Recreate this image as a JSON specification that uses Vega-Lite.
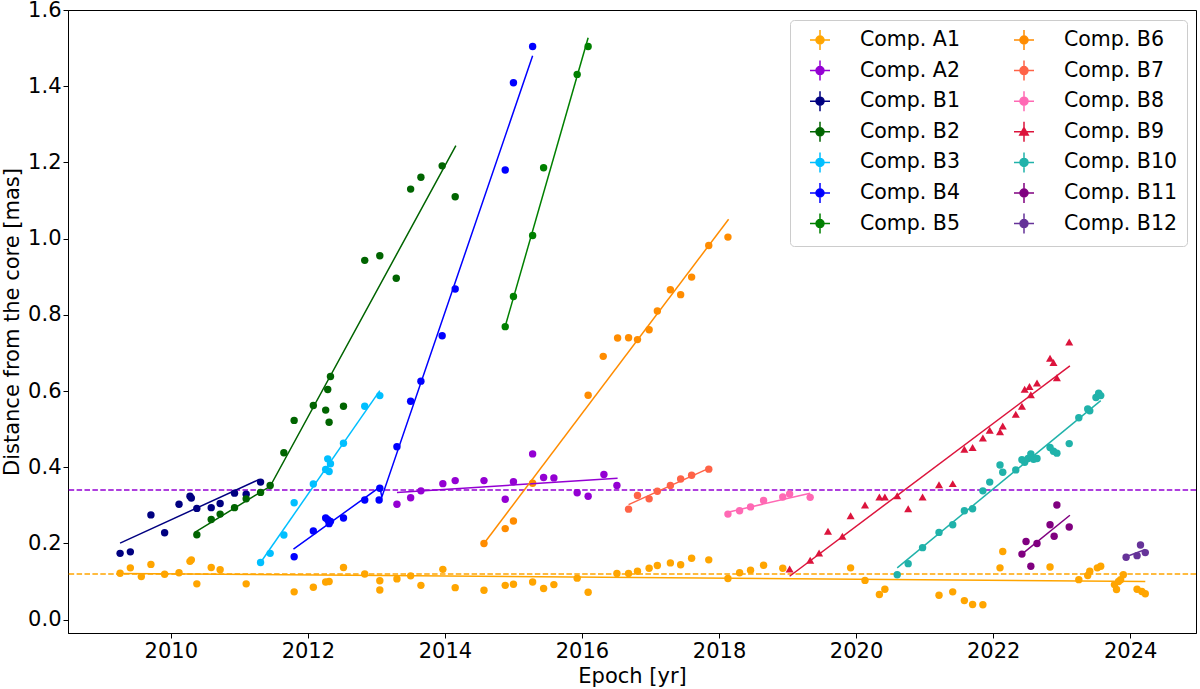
{
  "$schema": "https://vega.github.io/schema/vega-lite/v6.json",
  "width": 1128,
  "height": 623,
  "autosize": {"type": "none"},
  "padding": {"left": 68, "top": 10, "right": 4, "bottom": 56},
  "background": "white",
  "config": {
    "view": {"stroke": "black", "strokeWidth": 1},
    "font": "DejaVu Sans",
    "axis": {
      "grid": false,
      "domainColor": "black",
      "tickColor": "black",
      "labelColor": "black",
      "titleColor": "black",
      "labelFont": "DejaVu Sans",
      "titleFont": "DejaVu Sans",
      "labelFontSize": 21,
      "titleFontSize": 21,
      "titleFontWeight": "normal",
      "tickSize": 5,
      "labelPadding": 2
    }
  },
  "datasets": {
    "pts": [
      {"comp": "Comp. A1", "epoch": 2009.26, "dist": 0.122},
      {"comp": "Comp. A1", "epoch": 2009.41, "dist": 0.136},
      {"comp": "Comp. A1", "epoch": 2009.57, "dist": 0.113},
      {"comp": "Comp. A1", "epoch": 2009.71, "dist": 0.145},
      {"comp": "Comp. A1", "epoch": 2009.91, "dist": 0.119},
      {"comp": "Comp. A1", "epoch": 2010.12, "dist": 0.123},
      {"comp": "Comp. A1", "epoch": 2010.28, "dist": 0.153},
      {"comp": "Comp. A1", "epoch": 2010.30, "dist": 0.157},
      {"comp": "Comp. A1", "epoch": 2010.38, "dist": 0.094},
      {"comp": "Comp. A1", "epoch": 2010.59, "dist": 0.137},
      {"comp": "Comp. A1", "epoch": 2010.72, "dist": 0.131},
      {"comp": "Comp. A1", "epoch": 2011.10, "dist": 0.094},
      {"comp": "Comp. A1", "epoch": 2011.80, "dist": 0.073},
      {"comp": "Comp. A1", "epoch": 2012.08, "dist": 0.085},
      {"comp": "Comp. A1", "epoch": 2012.26, "dist": 0.099},
      {"comp": "Comp. A1", "epoch": 2012.31, "dist": 0.100},
      {"comp": "Comp. A1", "epoch": 2012.52, "dist": 0.137},
      {"comp": "Comp. A1", "epoch": 2012.83, "dist": 0.120},
      {"comp": "Comp. A1", "epoch": 2013.05, "dist": 0.102},
      {"comp": "Comp. A1", "epoch": 2013.05, "dist": 0.078},
      {"comp": "Comp. A1", "epoch": 2013.30, "dist": 0.107},
      {"comp": "Comp. A1", "epoch": 2013.50, "dist": 0.115},
      {"comp": "Comp. A1", "epoch": 2013.65, "dist": 0.090},
      {"comp": "Comp. A1", "epoch": 2013.97, "dist": 0.132},
      {"comp": "Comp. A1", "epoch": 2014.15, "dist": 0.084},
      {"comp": "Comp. A1", "epoch": 2014.57, "dist": 0.077},
      {"comp": "Comp. A1", "epoch": 2014.88, "dist": 0.090},
      {"comp": "Comp. A1", "epoch": 2015.00, "dist": 0.093},
      {"comp": "Comp. A1", "epoch": 2015.28, "dist": 0.099},
      {"comp": "Comp. A1", "epoch": 2015.44, "dist": 0.082},
      {"comp": "Comp. A1", "epoch": 2015.59, "dist": 0.092},
      {"comp": "Comp. A1", "epoch": 2015.93, "dist": 0.109},
      {"comp": "Comp. A1", "epoch": 2016.09, "dist": 0.072},
      {"comp": "Comp. A1", "epoch": 2016.51, "dist": 0.121},
      {"comp": "Comp. A1", "epoch": 2016.68, "dist": 0.121},
      {"comp": "Comp. A1", "epoch": 2016.81, "dist": 0.127},
      {"comp": "Comp. A1", "epoch": 2016.98, "dist": 0.135},
      {"comp": "Comp. A1", "epoch": 2017.10, "dist": 0.142},
      {"comp": "Comp. A1", "epoch": 2017.29, "dist": 0.149},
      {"comp": "Comp. A1", "epoch": 2017.44, "dist": 0.144},
      {"comp": "Comp. A1", "epoch": 2017.60, "dist": 0.161},
      {"comp": "Comp. A1", "epoch": 2017.85, "dist": 0.157},
      {"comp": "Comp. A1", "epoch": 2018.13, "dist": 0.108},
      {"comp": "Comp. A1", "epoch": 2018.30, "dist": 0.123},
      {"comp": "Comp. A1", "epoch": 2018.46, "dist": 0.130},
      {"comp": "Comp. A1", "epoch": 2018.65, "dist": 0.143},
      {"comp": "Comp. A1", "epoch": 2018.93, "dist": 0.135},
      {"comp": "Comp. A1", "epoch": 2019.92, "dist": 0.136},
      {"comp": "Comp. A1", "epoch": 2020.13, "dist": 0.103},
      {"comp": "Comp. A1", "epoch": 2020.34, "dist": 0.066},
      {"comp": "Comp. A1", "epoch": 2020.42, "dist": 0.080},
      {"comp": "Comp. A1", "epoch": 2021.21, "dist": 0.064},
      {"comp": "Comp. A1", "epoch": 2021.41, "dist": 0.073},
      {"comp": "Comp. A1", "epoch": 2021.58, "dist": 0.050},
      {"comp": "Comp. A1", "epoch": 2021.70, "dist": 0.040},
      {"comp": "Comp. A1", "epoch": 2021.85, "dist": 0.039},
      {"comp": "Comp. A1", "epoch": 2022.10, "dist": 0.136},
      {"comp": "Comp. A1", "epoch": 2022.14, "dist": 0.179},
      {"comp": "Comp. A1", "epoch": 2022.83, "dist": 0.138},
      {"comp": "Comp. A1", "epoch": 2023.25, "dist": 0.105},
      {"comp": "Comp. A1", "epoch": 2023.38, "dist": 0.116},
      {"comp": "Comp. A1", "epoch": 2023.41, "dist": 0.127},
      {"comp": "Comp. A1", "epoch": 2023.52, "dist": 0.136},
      {"comp": "Comp. A1", "epoch": 2023.57, "dist": 0.140},
      {"comp": "Comp. A1", "epoch": 2023.77, "dist": 0.092},
      {"comp": "Comp. A1", "epoch": 2023.80, "dist": 0.079},
      {"comp": "Comp. A1", "epoch": 2023.83, "dist": 0.100},
      {"comp": "Comp. A1", "epoch": 2023.86, "dist": 0.105},
      {"comp": "Comp. A1", "epoch": 2023.90, "dist": 0.118},
      {"comp": "Comp. A1", "epoch": 2024.10, "dist": 0.080},
      {"comp": "Comp. A1", "epoch": 2024.17, "dist": 0.074},
      {"comp": "Comp. A1", "epoch": 2024.22, "dist": 0.068},

      {"comp": "Comp. A2", "epoch": 2013.30, "dist": 0.303},
      {"comp": "Comp. A2", "epoch": 2013.50, "dist": 0.320},
      {"comp": "Comp. A2", "epoch": 2013.65, "dist": 0.338},
      {"comp": "Comp. A2", "epoch": 2013.97, "dist": 0.357},
      {"comp": "Comp. A2", "epoch": 2014.15, "dist": 0.365},
      {"comp": "Comp. A2", "epoch": 2014.57, "dist": 0.365},
      {"comp": "Comp. A2", "epoch": 2014.88, "dist": 0.316},
      {"comp": "Comp. A2", "epoch": 2015.00, "dist": 0.362},
      {"comp": "Comp. A2", "epoch": 2015.28, "dist": 0.435},
      {"comp": "Comp. A2", "epoch": 2015.44, "dist": 0.373},
      {"comp": "Comp. A2", "epoch": 2015.59, "dist": 0.372},
      {"comp": "Comp. A2", "epoch": 2015.93, "dist": 0.333},
      {"comp": "Comp. A2", "epoch": 2016.09, "dist": 0.324},
      {"comp": "Comp. A2", "epoch": 2016.32, "dist": 0.381},
      {"comp": "Comp. A2", "epoch": 2016.51, "dist": 0.352},

      {"comp": "Comp. B1", "epoch": 2009.26, "dist": 0.174},
      {"comp": "Comp. B1", "epoch": 2009.41, "dist": 0.178},
      {"comp": "Comp. B1", "epoch": 2009.71, "dist": 0.275},
      {"comp": "Comp. B1", "epoch": 2009.91, "dist": 0.228},
      {"comp": "Comp. B1", "epoch": 2010.12, "dist": 0.303},
      {"comp": "Comp. B1", "epoch": 2010.28, "dist": 0.324},
      {"comp": "Comp. B1", "epoch": 2010.30, "dist": 0.319},
      {"comp": "Comp. B1", "epoch": 2010.38, "dist": 0.292},
      {"comp": "Comp. B1", "epoch": 2010.59, "dist": 0.294},
      {"comp": "Comp. B1", "epoch": 2010.72, "dist": 0.305},
      {"comp": "Comp. B1", "epoch": 2010.93, "dist": 0.332},
      {"comp": "Comp. B1", "epoch": 2011.10, "dist": 0.329},
      {"comp": "Comp. B1", "epoch": 2011.31, "dist": 0.361},

      {"comp": "Comp. B2", "epoch": 2010.38, "dist": 0.223},
      {"comp": "Comp. B2", "epoch": 2010.59, "dist": 0.263},
      {"comp": "Comp. B2", "epoch": 2010.72, "dist": 0.277},
      {"comp": "Comp. B2", "epoch": 2010.93, "dist": 0.294},
      {"comp": "Comp. B2", "epoch": 2011.10, "dist": 0.317},
      {"comp": "Comp. B2", "epoch": 2011.31, "dist": 0.334},
      {"comp": "Comp. B2", "epoch": 2011.45, "dist": 0.352},
      {"comp": "Comp. B2", "epoch": 2011.65, "dist": 0.438},
      {"comp": "Comp. B2", "epoch": 2011.80, "dist": 0.523},
      {"comp": "Comp. B2", "epoch": 2012.08, "dist": 0.562},
      {"comp": "Comp. B2", "epoch": 2012.26, "dist": 0.550},
      {"comp": "Comp. B2", "epoch": 2012.29, "dist": 0.604},
      {"comp": "Comp. B2", "epoch": 2012.31, "dist": 0.518},
      {"comp": "Comp. B2", "epoch": 2012.33, "dist": 0.638},
      {"comp": "Comp. B2", "epoch": 2012.52, "dist": 0.560},
      {"comp": "Comp. B2", "epoch": 2012.83, "dist": 0.943},
      {"comp": "Comp. B2", "epoch": 2013.05, "dist": 0.955},
      {"comp": "Comp. B2", "epoch": 2013.29, "dist": 0.896},
      {"comp": "Comp. B2", "epoch": 2013.50, "dist": 1.130},
      {"comp": "Comp. B2", "epoch": 2013.65, "dist": 1.161},
      {"comp": "Comp. B2", "epoch": 2013.96, "dist": 1.191},
      {"comp": "Comp. B2", "epoch": 2014.15, "dist": 1.110},

      {"comp": "Comp. B3", "epoch": 2011.31, "dist": 0.150},
      {"comp": "Comp. B3", "epoch": 2011.45, "dist": 0.174},
      {"comp": "Comp. B3", "epoch": 2011.65, "dist": 0.222},
      {"comp": "Comp. B3", "epoch": 2011.80, "dist": 0.307},
      {"comp": "Comp. B3", "epoch": 2012.08, "dist": 0.356},
      {"comp": "Comp. B3", "epoch": 2012.26, "dist": 0.394},
      {"comp": "Comp. B3", "epoch": 2012.29, "dist": 0.422},
      {"comp": "Comp. B3", "epoch": 2012.31, "dist": 0.389},
      {"comp": "Comp. B3", "epoch": 2012.33, "dist": 0.409},
      {"comp": "Comp. B3", "epoch": 2012.52, "dist": 0.463},
      {"comp": "Comp. B3", "epoch": 2012.83, "dist": 0.560},
      {"comp": "Comp. B3", "epoch": 2013.05, "dist": 0.588},

      {"comp": "Comp. B4", "epoch": 2011.80, "dist": 0.165},
      {"comp": "Comp. B4", "epoch": 2012.08, "dist": 0.233},
      {"comp": "Comp. B4", "epoch": 2012.26, "dist": 0.267},
      {"comp": "Comp. B4", "epoch": 2012.29, "dist": 0.262},
      {"comp": "Comp. B4", "epoch": 2012.31, "dist": 0.252},
      {"comp": "Comp. B4", "epoch": 2012.33, "dist": 0.258},
      {"comp": "Comp. B4", "epoch": 2012.52, "dist": 0.267},
      {"comp": "Comp. B4", "epoch": 2012.83, "dist": 0.314},
      {"comp": "Comp. B4", "epoch": 2013.04, "dist": 0.314},
      {"comp": "Comp. B4", "epoch": 2013.05, "dist": 0.345},
      {"comp": "Comp. B4", "epoch": 2013.30, "dist": 0.454},
      {"comp": "Comp. B4", "epoch": 2013.50, "dist": 0.573},
      {"comp": "Comp. B4", "epoch": 2013.65, "dist": 0.626},
      {"comp": "Comp. B4", "epoch": 2013.96, "dist": 0.745},
      {"comp": "Comp. B4", "epoch": 2014.15, "dist": 0.868},
      {"comp": "Comp. B4", "epoch": 2014.88, "dist": 1.180},
      {"comp": "Comp. B4", "epoch": 2015.00, "dist": 1.409},
      {"comp": "Comp. B4", "epoch": 2015.28, "dist": 1.504},

      {"comp": "Comp. B5", "epoch": 2014.88, "dist": 0.769},
      {"comp": "Comp. B5", "epoch": 2015.00, "dist": 0.848},
      {"comp": "Comp. B5", "epoch": 2015.28, "dist": 1.008},
      {"comp": "Comp. B5", "epoch": 2015.44, "dist": 1.186},
      {"comp": "Comp. B5", "epoch": 2015.93, "dist": 1.431},
      {"comp": "Comp. B5", "epoch": 2016.09, "dist": 1.504},

      {"comp": "Comp. B6", "epoch": 2014.57, "dist": 0.200},
      {"comp": "Comp. B6", "epoch": 2014.88, "dist": 0.239},
      {"comp": "Comp. B6", "epoch": 2015.00, "dist": 0.259},
      {"comp": "Comp. B6", "epoch": 2015.28, "dist": 0.358},
      {"comp": "Comp. B6", "epoch": 2016.09, "dist": 0.589},
      {"comp": "Comp. B6", "epoch": 2016.31, "dist": 0.691},
      {"comp": "Comp. B6", "epoch": 2016.52, "dist": 0.739},
      {"comp": "Comp. B6", "epoch": 2016.68, "dist": 0.740},
      {"comp": "Comp. B6", "epoch": 2016.81, "dist": 0.735},
      {"comp": "Comp. B6", "epoch": 2016.98, "dist": 0.761},
      {"comp": "Comp. B6", "epoch": 2017.10, "dist": 0.810},
      {"comp": "Comp. B6", "epoch": 2017.29, "dist": 0.866},
      {"comp": "Comp. B6", "epoch": 2017.44, "dist": 0.853},
      {"comp": "Comp. B6", "epoch": 2017.60, "dist": 0.899},
      {"comp": "Comp. B6", "epoch": 2017.85, "dist": 0.982},
      {"comp": "Comp. B6", "epoch": 2018.13, "dist": 1.004},

      {"comp": "Comp. B7", "epoch": 2016.68, "dist": 0.290},
      {"comp": "Comp. B7", "epoch": 2016.81, "dist": 0.326},
      {"comp": "Comp. B7", "epoch": 2016.98, "dist": 0.317},
      {"comp": "Comp. B7", "epoch": 2017.10, "dist": 0.337},
      {"comp": "Comp. B7", "epoch": 2017.29, "dist": 0.352},
      {"comp": "Comp. B7", "epoch": 2017.44, "dist": 0.369},
      {"comp": "Comp. B7", "epoch": 2017.60, "dist": 0.379},
      {"comp": "Comp. B7", "epoch": 2017.85, "dist": 0.395},

      {"comp": "Comp. B8", "epoch": 2018.13, "dist": 0.277},
      {"comp": "Comp. B8", "epoch": 2018.30, "dist": 0.286},
      {"comp": "Comp. B8", "epoch": 2018.46, "dist": 0.296},
      {"comp": "Comp. B8", "epoch": 2018.65, "dist": 0.313},
      {"comp": "Comp. B8", "epoch": 2018.93, "dist": 0.322},
      {"comp": "Comp. B8", "epoch": 2019.03, "dist": 0.330},
      {"comp": "Comp. B8", "epoch": 2019.33, "dist": 0.321},

      {"comp": "Comp. B9", "epoch": 2019.03, "dist": 0.133},
      {"comp": "Comp. B9", "epoch": 2019.33, "dist": 0.156},
      {"comp": "Comp. B9", "epoch": 2019.46, "dist": 0.175},
      {"comp": "Comp. B9", "epoch": 2019.59, "dist": 0.232},
      {"comp": "Comp. B9", "epoch": 2019.80, "dist": 0.219},
      {"comp": "Comp. B9", "epoch": 2019.92, "dist": 0.273},
      {"comp": "Comp. B9", "epoch": 2020.13, "dist": 0.301},
      {"comp": "Comp. B9", "epoch": 2020.34, "dist": 0.322},
      {"comp": "Comp. B9", "epoch": 2020.42, "dist": 0.322},
      {"comp": "Comp. B9", "epoch": 2020.60, "dist": 0.325},
      {"comp": "Comp. B9", "epoch": 2020.76, "dist": 0.291},
      {"comp": "Comp. B9", "epoch": 2020.97, "dist": 0.322},
      {"comp": "Comp. B9", "epoch": 2021.21, "dist": 0.354},
      {"comp": "Comp. B9", "epoch": 2021.41, "dist": 0.357},
      {"comp": "Comp. B9", "epoch": 2021.58, "dist": 0.447},
      {"comp": "Comp. B9", "epoch": 2021.70, "dist": 0.452},
      {"comp": "Comp. B9", "epoch": 2021.85, "dist": 0.477},
      {"comp": "Comp. B9", "epoch": 2021.95, "dist": 0.497},
      {"comp": "Comp. B9", "epoch": 2022.10, "dist": 0.493},
      {"comp": "Comp. B9", "epoch": 2022.14, "dist": 0.508},
      {"comp": "Comp. B9", "epoch": 2022.33, "dist": 0.539},
      {"comp": "Comp. B9", "epoch": 2022.42, "dist": 0.560},
      {"comp": "Comp. B9", "epoch": 2022.46, "dist": 0.605},
      {"comp": "Comp. B9", "epoch": 2022.53, "dist": 0.612},
      {"comp": "Comp. B9", "epoch": 2022.55, "dist": 0.590},
      {"comp": "Comp. B9", "epoch": 2022.64, "dist": 0.621},
      {"comp": "Comp. B9", "epoch": 2022.83, "dist": 0.686},
      {"comp": "Comp. B9", "epoch": 2022.88, "dist": 0.675},
      {"comp": "Comp. B9", "epoch": 2022.93, "dist": 0.635},
      {"comp": "Comp. B9", "epoch": 2023.11, "dist": 0.729},

      {"comp": "Comp. B10", "epoch": 2020.60, "dist": 0.118},
      {"comp": "Comp. B10", "epoch": 2020.76, "dist": 0.147},
      {"comp": "Comp. B10", "epoch": 2020.97, "dist": 0.189},
      {"comp": "Comp. B10", "epoch": 2021.21, "dist": 0.229},
      {"comp": "Comp. B10", "epoch": 2021.41, "dist": 0.249},
      {"comp": "Comp. B10", "epoch": 2021.58, "dist": 0.286},
      {"comp": "Comp. B10", "epoch": 2021.70, "dist": 0.291},
      {"comp": "Comp. B10", "epoch": 2021.85, "dist": 0.338},
      {"comp": "Comp. B10", "epoch": 2021.95, "dist": 0.361},
      {"comp": "Comp. B10", "epoch": 2022.10, "dist": 0.406},
      {"comp": "Comp. B10", "epoch": 2022.14, "dist": 0.387},
      {"comp": "Comp. B10", "epoch": 2022.33, "dist": 0.393},
      {"comp": "Comp. B10", "epoch": 2022.42, "dist": 0.420},
      {"comp": "Comp. B10", "epoch": 2022.46, "dist": 0.413},
      {"comp": "Comp. B10", "epoch": 2022.51, "dist": 0.423},
      {"comp": "Comp. B10", "epoch": 2022.55, "dist": 0.435},
      {"comp": "Comp. B10", "epoch": 2022.59, "dist": 0.421},
      {"comp": "Comp. B10", "epoch": 2022.64, "dist": 0.423},
      {"comp": "Comp. B10", "epoch": 2022.83, "dist": 0.452},
      {"comp": "Comp. B10", "epoch": 2022.88, "dist": 0.442},
      {"comp": "Comp. B10", "epoch": 2022.93, "dist": 0.437},
      {"comp": "Comp. B10", "epoch": 2023.11, "dist": 0.462},
      {"comp": "Comp. B10", "epoch": 2023.25, "dist": 0.530},
      {"comp": "Comp. B10", "epoch": 2023.38, "dist": 0.553},
      {"comp": "Comp. B10", "epoch": 2023.41, "dist": 0.548},
      {"comp": "Comp. B10", "epoch": 2023.50, "dist": 0.583},
      {"comp": "Comp. B10", "epoch": 2023.54, "dist": 0.594},
      {"comp": "Comp. B10", "epoch": 2023.57, "dist": 0.588},

      {"comp": "Comp. B11", "epoch": 2022.42, "dist": 0.172},
      {"comp": "Comp. B11", "epoch": 2022.48, "dist": 0.205},
      {"comp": "Comp. B11", "epoch": 2022.55, "dist": 0.140},
      {"comp": "Comp. B11", "epoch": 2022.64, "dist": 0.200},
      {"comp": "Comp. B11", "epoch": 2022.83, "dist": 0.249},
      {"comp": "Comp. B11", "epoch": 2022.89, "dist": 0.219},
      {"comp": "Comp. B11", "epoch": 2022.93, "dist": 0.301},
      {"comp": "Comp. B11", "epoch": 2023.11, "dist": 0.243},

      {"comp": "Comp. B12", "epoch": 2023.94, "dist": 0.164},
      {"comp": "Comp. B12", "epoch": 2024.10, "dist": 0.168},
      {"comp": "Comp. B12", "epoch": 2024.15, "dist": 0.196},
      {"comp": "Comp. B12", "epoch": 2024.22, "dist": 0.176}
    ],
    "fits": [
      {"comp": "Comp. A1", "epoch": 2009.26, "dist": 0.121},
      {"comp": "Comp. A1", "epoch": 2024.22, "dist": 0.100},
      {"comp": "Comp. A2", "epoch": 2013.30, "dist": 0.334},
      {"comp": "Comp. A2", "epoch": 2016.52, "dist": 0.371},
      {"comp": "Comp. B1", "epoch": 2009.26, "dist": 0.201},
      {"comp": "Comp. B1", "epoch": 2011.29, "dist": 0.368},
      {"comp": "Comp. B2", "epoch": 2010.35, "dist": 0.229},
      {"comp": "Comp. B2", "epoch": 2011.45, "dist": 0.350},
      {"comp": "Comp. B2", "epoch": 2014.16, "dist": 1.244},
      {"comp": "Comp. B3", "epoch": 2011.31, "dist": 0.150},
      {"comp": "Comp. B3", "epoch": 2013.05, "dist": 0.601},
      {"comp": "Comp. B4", "epoch": 2011.79, "dist": 0.185},
      {"comp": "Comp. B4", "epoch": 2013.05, "dist": 0.348},
      {"comp": "Comp. B4", "epoch": 2013.08, "dist": 0.322},
      {"comp": "Comp. B4", "epoch": 2015.28, "dist": 1.480},
      {"comp": "Comp. B5", "epoch": 2014.88, "dist": 0.770},
      {"comp": "Comp. B5", "epoch": 2016.09, "dist": 1.527},
      {"comp": "Comp. B6", "epoch": 2014.57, "dist": 0.200},
      {"comp": "Comp. B6", "epoch": 2018.14, "dist": 1.051},
      {"comp": "Comp. B7", "epoch": 2016.68, "dist": 0.302},
      {"comp": "Comp. B7", "epoch": 2017.85, "dist": 0.397},
      {"comp": "Comp. B8", "epoch": 2018.13, "dist": 0.282},
      {"comp": "Comp. B8", "epoch": 2019.33, "dist": 0.332},
      {"comp": "Comp. B9", "epoch": 2019.03, "dist": 0.114},
      {"comp": "Comp. B9", "epoch": 2023.12, "dist": 0.666},
      {"comp": "Comp. B10", "epoch": 2020.60, "dist": 0.136},
      {"comp": "Comp. B10", "epoch": 2023.57, "dist": 0.575},
      {"comp": "Comp. B11", "epoch": 2022.42, "dist": 0.172},
      {"comp": "Comp. B11", "epoch": 2023.12, "dist": 0.274},
      {"comp": "Comp. B12", "epoch": 2023.94, "dist": 0.165},
      {"comp": "Comp. B12", "epoch": 2024.22, "dist": 0.184}
    ],
    "levels": [
      {"comp": "Comp. A1", "dist": 0.12},
      {"comp": "Comp. A2", "dist": 0.34}
    ]
  },
  "layer": [
    {
      "data": {"name": "levels"},
      "mark": {"type": "rule", "strokeWidth": 1.5, "strokeDash": [5.5, 2.4]},
      "encoding": {
        "y": {"field": "dist", "type": "quantitative"},
        "color": {"field": "comp", "type": "nominal"}
      }
    },
    {
      "data": {"name": "pts"},
      "transform": [{"filter": "datum.comp !== 'Comp. B9'"}],
      "mark": {"type": "point", "filled": true, "size": 55, "opacity": 1, "shape": "circle"},
      "encoding": {
        "x": {
          "field": "epoch", "type": "quantitative",
          "scale": {"domain": [2008.5, 2024.96], "nice": false, "zero": false},
          "axis": {"title": "Epoch [yr]", "values": [2010, 2012, 2014, 2016, 2018, 2020, 2022, 2024], "format": "d", "titlePadding": 4}
        },
        "y": {
          "field": "dist", "type": "quantitative",
          "scale": {"domain": [-0.035, 1.6], "nice": false, "zero": false},
          "axis": {"title": "Distance from the core [mas]", "values": [0, 0.2, 0.4, 0.6, 0.8, 1.0, 1.2, 1.4, 1.6], "format": ".1f", "titlePadding": 5}
        },
        "color": {
          "field": "comp", "type": "nominal",
          "scale": {
            "domain": ["Comp. A1", "Comp. A2", "Comp. B1", "Comp. B2", "Comp. B3", "Comp. B4", "Comp. B5", "Comp. B6", "Comp. B7", "Comp. B8", "Comp. B9", "Comp. B10", "Comp. B11", "Comp. B12"],
            "range": ["#FFA500", "#9400D3", "#000080", "#006400", "#00BFFF", "#0000FF", "#008000", "#FF8C00", "#FF6347", "#FF69B4", "#DC143C", "#20B2AA", "#800080", "#663399"]
          },
          "legend": {
            "title": null,
            "orient": "none",
            "legendX": 722,
            "legendY": 10,
            "columns": 2,
            "columnPadding": 43,
            "rowPadding": 4.6,
            "padding": 9,
            "fillColor": "white",
            "strokeColor": "#cccccc",
            "cornerRadius": 4,
            "labelFont": "DejaVu Sans",
            "labelFontSize": 20.5,
            "labelColor": "black",
            "labelOffset": 29,
            "labelLimit": 300,
            "symbolSize": 400,
            "symbolOffset": 10,
            "symbolStrokeWidth": 1.5,
            "symbolType": {"expr": "datum.value === 'Comp. B9' ? 'M-1,0L1,0M0,-1L0,1M0,-0.42L0.42,0.32L-0.42,0.32Z' : 'M-1,0L1,0M0,-1L0,1M0.4,0A0.4,0.4,0,1,1,-0.4,0A0.4,0.4,0,1,1,0.4,0Z'"},
            "encode": {
              "symbols": {
                "update": {
                  "fill": {"signal": "scale('color', datum.value)"},
                  "stroke": {"signal": "scale('color', datum.value)"},
                  "strokeWidth": {"value": 1.5},
                  "strokeDash": {"value": []},
                  "size": {"value": 400},
                  "opacity": {"value": 1}
                }
              }
            }
          }
        }
      }
    },
    {
      "data": {"name": "pts"},
      "transform": [{"filter": "datum.comp === 'Comp. B9'"}],
      "mark": {"type": "point", "filled": true, "size": 65, "opacity": 1, "shape": "triangle-up"},
      "encoding": {
        "x": {"field": "epoch", "type": "quantitative"},
        "y": {"field": "dist", "type": "quantitative"},
        "color": {"field": "comp", "type": "nominal"}
      }
    },
    {
      "data": {"name": "fits"},
      "mark": {"type": "line", "strokeWidth": 1.5},
      "encoding": {
        "x": {"field": "epoch", "type": "quantitative"},
        "y": {"field": "dist", "type": "quantitative"},
        "color": {"field": "comp", "type": "nominal"}
      }
    }
  ]
}
